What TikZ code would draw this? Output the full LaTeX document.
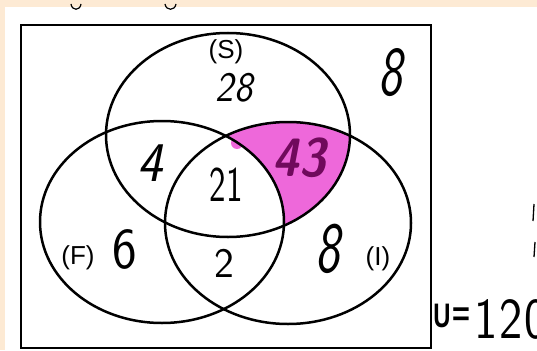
\documentclass[tikz,border=0pt]{standalone}
\usepackage{fontspec}
\setmainfont{Liberation Sans}
\usepackage{graphicx}
\definecolor{cream}{RGB}{253,234,212}
\definecolor{hlpink}{RGB}{238,104,218}
\definecolor{hldark}{RGB}{112,10,92}
\tikzset{
  venn/.style={line width=2.5pt, draw=black},
  boxline/.style={line width=2.5pt, draw=black},
  hand/.style={font=\sffamily, inner sep=0pt, text=black},
  printed/.style={font=\fontsize{26}{26}\selectfont, inner sep=0pt, text=black},
}
\begin{document}
\begin{tikzpicture}[x=1pt,y=-1pt]
\clip (0,0) rectangle (537,350);
\fill[cream] (0,0) rectangle (537,350);
\fill[white] (5,7) rectangle (537,350);
% magenta highlight: S and I without F
\begin{scope}
  \clip (228,135) ellipse [x radius=122pt, y radius=102pt];
  \clip (288,223) ellipse [x radius=123pt, y radius=101pt];
  \fill[hlpink, even odd rule] (0,0) rectangle (537,350)
        (162,222) ellipse [x radius=122pt, y radius=101pt];
\end{scope}
\fill[hlpink] (237,143) circle [radius=6pt];
% frame
\draw[boxline] (21,25) rectangle (431,348);
% circles
\draw[venn] (228,135) ellipse [x radius=122pt, y radius=102pt];
\draw[venn] (162,222) ellipse [x radius=122pt, y radius=101pt];
\draw[venn] (288,223) ellipse [x radius=123pt, y radius=101pt];
% labels
\node[printed] (labS) at (226,52) {(S)};
\node[printed] (labF) at (78,258) {(F)};
\node[printed] (labI) at (378,259) {(I)};
\node[hand, font=\sffamily\slshape\fontsize{42}{42}\selectfont] (n28) at (234,88) {\scalebox{0.92}[1]{28}};
\node[hand, font=\sffamily\slshape\fontsize{70}{70}\selectfont] (n8a) at (390,73) {\scalebox{0.72}[1]{8}};
\node[hand, font=\sffamily\slshape\fontsize{56}{56}\selectfont] (n4) at (150,163) {\scalebox{0.95}[1]{4}};
\node[hand, font=\sffamily\fontsize{50}{50}\selectfont] (n21) at (226,185) {\scalebox{0.7}[1]{21}};
\node[hand, font=\sffamily\bfseries\slshape\fontsize{54}{54}\selectfont, text=hldark] (n43) at (299,158) {\scalebox{0.9}[1]{43}};
\node[hand, font=\sffamily\fontsize{58}{58}\selectfont] (n6) at (125,249) {\scalebox{0.9}[1]{6}};
\node[hand, font=\sffamily\fontsize{42}{42}\selectfont] (n2) at (224,263) {2};
\node[hand, font=\sffamily\slshape\fontsize{72}{72}\selectfont] (n8b) at (328,249) {\scalebox{0.72}[1]{8}};
% universe
\node[inner sep=0pt, font=\bfseries\fontsize{34}{34}\selectfont] (nU) at (442,316) {\scalebox{0.7}[1]{U}};
\node[inner sep=0pt, font=\bfseries\fontsize{34}{34}\selectfont] (nEq) at (461,317) {\scalebox{0.9}[1]{=}};
\node[hand, anchor=west, font=\sffamily\fontsize{58}{58}\selectfont] (n120) at (474,319) {\scalebox{0.85}[1]{1\hspace{2pt}2\hspace{3pt}0}};
% fragments at the edges
\coordinate (g1a) at (71,4); \coordinate (g1b) at (81,4);
\coordinate (g2a) at (165,4); \coordinate (g2b) at (176,4);
\draw[line width=1.2pt] (g1a) .. controls (72,11) and (80,11) .. (g1b);
\draw[line width=1.2pt] (g2a) .. controls (166,11) and (175,11) .. (g2b);
\coordinate (r1a) at (534,204); \coordinate (r1b) at (533,221);
\coordinate (r2a) at (535,242); \coordinate (r2b) at (534,257);
\draw[line width=1.3pt] (r1a) -- (r1b);
\draw[line width=1.3pt] (r2a) -- (r2b);
\end{tikzpicture}
\end{document}
